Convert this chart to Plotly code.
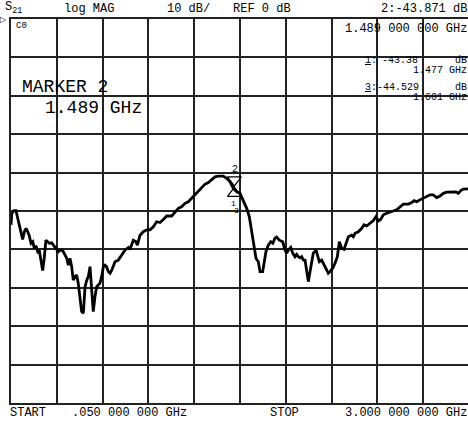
import plotly.graph_objects as go

# S21 trace (GHz, dB)
freq_ghz = [0.050, 0.055, 0.069, 0.082, 0.091, 0.102, 0.112, 0.125, 0.136, 0.147,
            0.158, 0.168, 0.179, 0.190, 0.200, 0.211, 0.222, 0.232, 0.243, 0.254,
            0.264, 0.275, 0.286, 0.297, 0.312, 0.322, 0.333, 0.344, 0.355, 0.366,
            0.377, 0.387, 0.398, 0.409, 0.419, 0.430, 0.441, 0.451, 0.462, 0.473,
            0.483, 0.494, 0.505, 0.516, 0.527, 0.538, 0.548, 0.559, 0.570, 0.580,
            0.591, 0.602, 0.612, 0.623, 0.634, 0.645, 0.655, 0.666, 0.677, 0.688,
            0.699, 0.709, 0.720, 0.741, 0.763, 0.784, 0.806, 0.816, 0.838, 0.855,
            0.864, 0.881, 0.902, 0.924, 0.945, 0.967, 0.988, 1.010, 1.031, 1.053,
            1.085, 1.106, 1.128, 1.149, 1.171, 1.192, 1.214, 1.235, 1.256, 1.278,
            1.300, 1.321, 1.343, 1.364, 1.385, 1.417, 1.439, 1.461, 1.482, 1.504,
            1.525, 1.546, 1.568, 1.585, 1.600, 1.615, 1.628, 1.643, 1.654, 1.671,
            1.680, 1.692, 1.707, 1.723, 1.736, 1.750, 1.761, 1.778, 1.800, 1.815,
            1.826, 1.836, 1.852, 1.864, 1.879, 1.890, 1.901, 1.912, 1.922, 1.933,
            1.944, 1.955, 1.965, 1.976, 1.987, 1.997, 2.015, 2.023, 2.036, 2.051,
            2.066, 2.083, 2.094, 2.105, 2.122, 2.137, 2.152, 2.165, 2.180, 2.195,
            2.208, 2.223, 2.244, 2.255, 2.266, 2.287, 2.309, 2.324, 2.341, 2.362,
            2.384, 2.401, 2.416, 2.431, 2.448, 2.470, 2.491, 2.512, 2.534, 2.556,
            2.577, 2.609, 2.631, 2.646, 2.663, 2.684, 2.706, 2.728, 2.749, 2.770,
            2.792, 2.813, 2.835, 2.856, 2.878, 2.899, 2.916, 2.931, 2.947, 2.963,
            2.985, 3.000]
s21_db = [-53.6, -50.6, -49.9, -49.9, -51.5, -53.6, -55.8, -57.4, -55.4, -54.5,
          -55.4, -56.5, -58.4, -58.0, -59.7, -59.1, -60.6, -60.2, -62.8, -65.5,
          -62.3, -57.6, -58.0, -58.4, -58.3, -58.9, -59.3, -60.2, -60.6, -60.2,
          -60.2, -60.6, -61.5, -62.3, -64.1, -62.3, -64.5, -68.0, -67.1, -66.7,
          -68.8, -72.3, -76.2, -76.6, -69.7, -68.0, -67.1, -64.5, -70.1, -76.2,
          -72.3, -69.7, -69.3, -68.8, -67.1, -64.5, -64.1, -64.5, -65.8, -66.2,
          -65.4, -64.1, -63.2, -62.8, -61.5, -60.2, -59.5, -60.0, -57.6, -58.0,
          -58.9, -56.3, -55.4, -54.9, -54.9, -54.1, -52.8, -53.0, -52.2, -51.3,
          -51.3, -50.2, -49.3, -48.9, -48.0, -47.6, -46.7, -45.8, -45.0, -44.1,
          -43.0, -42.6, -41.9, -41.1, -40.9, -40.9, -41.5, -42.4, -44.1, -45.0,
          -45.4, -47.1, -49.3, -51.5, -54.9, -58.4, -62.3, -63.2, -65.8, -65.8,
          -63.6, -60.6, -58.9, -58.0, -58.4, -57.1, -56.8, -57.6, -58.0, -60.2,
          -61.0, -60.2, -59.5, -60.9, -61.9, -61.3, -61.9, -62.2, -61.9, -62.8,
          -62.8, -65.4, -68.4, -65.8, -62.8, -61.0, -60.2, -61.5, -63.2, -62.8,
          -64.1, -65.4, -66.2, -65.8, -64.9, -63.6, -61.9, -58.0, -59.7, -60.0,
          -58.4, -56.7, -56.3, -56.7, -55.8, -55.4, -54.5, -53.6, -53.9, -53.2,
          -52.5, -51.5, -52.6, -52.2, -51.0, -50.6, -50.2, -50.0, -49.7, -48.9,
          -48.2, -48.2, -47.8, -47.3, -47.6, -47.1, -46.7, -46.3, -45.8, -45.8,
          -46.5, -46.1, -45.4, -45.1, -45.1, -45.1, -45.0, -45.4, -44.7, -44.3,
          -44.3, -44.2]

start_ghz = 0.05
stop_ghz = 3.0
ref_db = 0
scale_db = 10

W, H = 468, 421
ML, MR, MT, MB = 11, 0, 19, 18
PW, PH = W - ML - MR, H - MT - MB
FONT = "Liberation Mono"


def px(x, y):
    # screen pixel -> paper coords (for the text labels only)
    return (x - ML) / PW, (H - MB - y) / PH


fig = go.Figure()

fig.add_trace(go.Scatter(x=freq_ghz, y=s21_db, mode="lines",
                         line=dict(color="black", width=2.8),
                         hoverinfo="skip", showlegend=False))

# marker symbols (active marker 2 above, 1/3 below)
fig.add_trace(go.Scatter(x=[1.489], y=[-41.9], mode="markers",
                         marker=dict(symbol="triangle-down-open", size=12,
                                     color="black", line=dict(width=1.2)),
                         showlegend=False, hoverinfo="skip"))
fig.add_trace(go.Scatter(x=[1.489], y=[-45.4], mode="markers",
                         marker=dict(symbol="triangle-up-open", size=12,
                                     color="black", line=dict(width=1.2)),
                         showlegend=False, hoverinfo="skip"))

div_x = (stop_ghz - start_ghz) / 10
fig.update_xaxes(range=[start_ghz, start_ghz + div_x * 10 * PW / (PW + 1)],
                 tick0=start_ghz, dtick=div_x, showticklabels=False,
                 ticks="", showgrid=True, gridcolor="#222", gridwidth=1.5,
                 showline=True, linecolor="#222", linewidth=1.5, mirror=True,
                 zeroline=False, fixedrange=True)
fig.update_yaxes(range=[ref_db - 10 * scale_db, ref_db], tick0=ref_db,
                 dtick=scale_db, showticklabels=False, ticks="",
                 showgrid=True, gridcolor="#222", gridwidth=1.5,
                 showline=True, linecolor="#222", linewidth=1.5, mirror=False,
                 zeroline=False, fixedrange=True)

labels = [
    # text, x, y, anchor, size
    ("S<sub>21</sub>", 4, 8, "left", 12),
    ("log MAG", 63, 9, "left", 12),
    ("10 dB/", 166, 9, "left", 12),
    ("REF 0 dB", 232, 9, "left", 12),
    ("2:-43.871 dB", 468, 9, "right", 12),
    ("C0", 15, 26, "left", 9),
    ("1.489 000 000 GHz", 468, 29, "right", 12),
    ("MARKER 2", 21, 87, "left", 18),
    ("1.489 GHz", 44, 108, "left", 18),
    ("<u>1</u>:", 364, 60, "left", 10),
    ("-43.38", 381, 60, "left", 10),
    ("dB", 468, 60, "right", 10),
    ("1.477 GHz", 468, 71, "right", 10),
    ("<u>3</u>:-44.529", 364, 87, "left", 10),
    ("dB", 468, 87, "right", 10),
    ("1.601 GHz", 468, 98, "right", 10),
    ("START", 9, 413, "left", 12),
    (".050 000 000 GHz", 71, 413, "left", 12),
    ("STOP", 269, 413, "left", 12),
    ("3.000 000 000 GHz", 468, 413, "right", 12),
    ("2", 235, 169, "center", 10),
    ("1", 233, 203, "center", 8),
    ("3", 236, 210, "center", 8),
]
for text, x, y, anchor, size in labels:
    xp, yp = px(x, y)
    fig.add_annotation(text=text, x=xp, y=yp, xref="paper", yref="paper",
                       xanchor=anchor, yanchor="middle", showarrow=False,
                       borderpad=0,
                       font=dict(family=FONT, size=size, color="black"))

# reference position indicator
xp, yp = px(3, 19)
fig.add_annotation(text="▷", x=xp, y=yp, xref="paper", yref="paper",
                   xanchor="center", yanchor="middle", showarrow=False,
                   font=dict(family="DejaVu Sans", size=8, color="black"))

fig.update_layout(width=W, height=H,
                  margin=dict(l=ML, r=MR, t=MT, b=MB, pad=0),
                  paper_bgcolor="white", plot_bgcolor="white",
                  showlegend=False)

fig.write_html("out.html", config={"displayModeBar": False},
               post_script="document.body.style.margin='0';"
                           "document.body.style.overflow='hidden';")
